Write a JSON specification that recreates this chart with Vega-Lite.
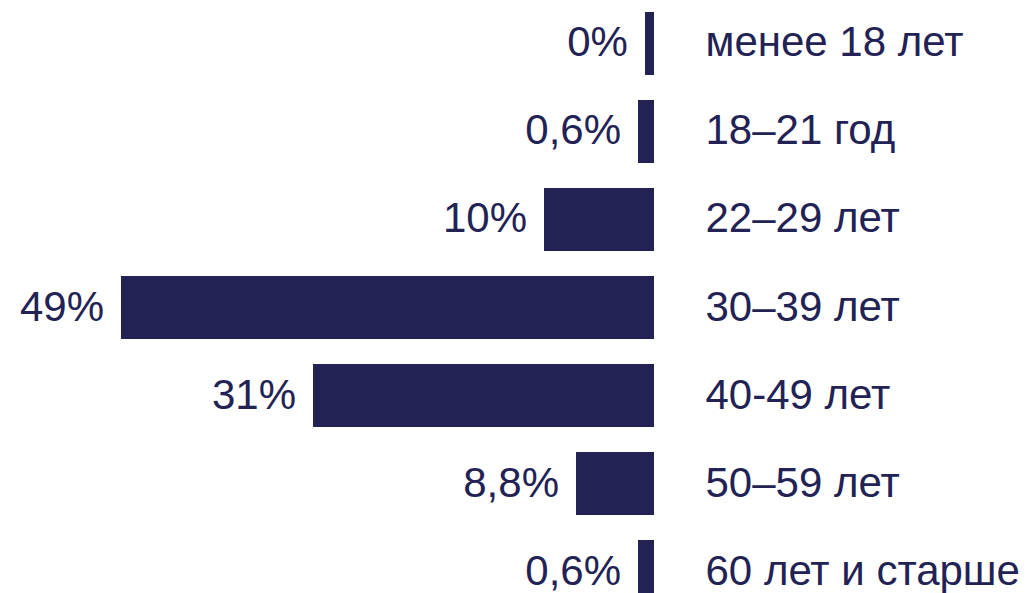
{
  "$schema": "https://vega.github.io/schema/vega-lite/v6.json",
  "width": 654,
  "height": 593,
  "autosize": {"type": "none"},
  "padding": {"left": 0, "top": 0, "right": 378, "bottom": 0},
  "background": "white",
  "config": {"view": {"stroke": null}, "font": "Liberation Sans"},
  "data": {
    "values": [
      {"age": "менее 18 лет", "label": "0%", "length": 0.83},
      {"age": "18–21 год", "label": "0,6%", "length": 1.47},
      {"age": "22–29 лет", "label": "10%", "length": 10.11},
      {"age": "30–39 лет", "label": "49%", "length": 48.99},
      {"age": "40-49 лет", "label": "31%", "length": 31.34},
      {"age": "50–59 лет", "label": "8,8%", "length": 7.17},
      {"age": "60 лет и старше", "label": "0,6%", "length": 1.47}
    ]
  },
  "encoding": {
    "y": {
      "field": "age",
      "type": "nominal",
      "sort": null,
      "scale": {"range": [0, 615], "paddingInner": 0.284, "paddingOuter": 0.136},
      "axis": {
        "orient": "right",
        "title": null,
        "ticks": false,
        "domain": false,
        "labelPadding": 51,
        "labelFontSize": 42,
        "labelColor": "#222255",
        "labelFont": "Liberation Sans",
        "labelLimit": 0
      }
    },
    "x": {
      "field": "length",
      "type": "quantitative",
      "scale": {"domain": [0, 60.11], "reverse": true, "nice": false},
      "axis": null
    }
  },
  "layer": [
    {"mark": {"type": "bar", "color": "#222255"}},
    {
      "mark": {"type": "text", "align": "right", "baseline": "middle", "dx": -17, "fontSize": 42, "color": "#222255", "font": "Liberation Sans"},
      "encoding": {"text": {"field": "label"}}
    }
  ]
}
